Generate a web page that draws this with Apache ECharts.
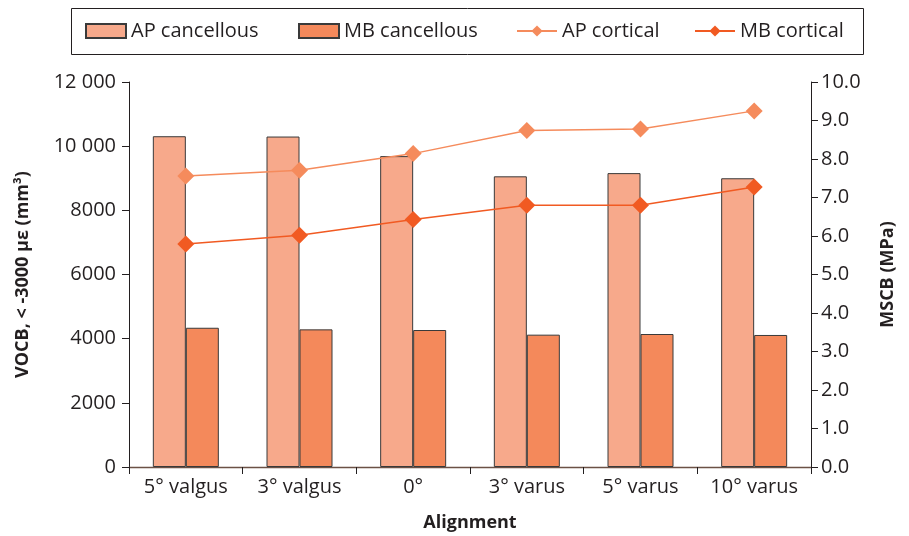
<!DOCTYPE html>
<html><head><meta charset="utf-8">
<script src="https://cdn.jsdelivr.net/npm/echarts@6/dist/echarts.min.js"></script>
<style>html,body{margin:0;padding:0;background:#fff}#c{width:909px;height:536px}</style>
</head><body><div id="c"></div>
<script>
const categories = ['5° valgus','3° valgus','0°','3° varus','5° varus','10° varus'];
const apCancellous = [10310, 10300, 9690, 9060, 9160, 9000];
const mbCancellous = [4340, 4290, 4270, 4125, 4145, 4115];
const apCortical = [7.56, 7.71, 8.14, 8.74, 8.78, 9.25];
const mbCortical = [5.79, 6.02, 6.43, 6.80, 6.80, 7.27];
const leftTicks = [0, 2000, 4000, 6000, 8000, 10000, 12000];
const rightTicks = [0, 1, 2, 3, 4, 5, 6, 7, 8, 9, 10];

const FONT = '"Open Sans", "Noto Sans", sans-serif';
const TXT = '#231F20';
const chart = echarts.init(document.getElementById('c'), null, {renderer: 'canvas'});
const legendText = {fontFamily: FONT, fontSize: 20, color: TXT};
function lg(name, left, icon) {
  const o = {data: [{name: name, icon: icon}], left: left, top: 21, itemWidth: 40, itemHeight: 14, itemGap: 0,
    padding: 0, textStyle: legendText, selectedMode: false};
  return o;
}
const nameStyle = {fontFamily: FONT, fontSize: 18, fontWeight: 'bold', color: TXT};
chart.setOption({
  animation: false,
  backgroundColor: '#fff',
  graphic: [{type: 'rect', shape: {x: 71.5, y: 8.5, width: 792, height: 46},
    style: {fill: 'none', stroke: TXT, lineWidth: 1}}],
  legend: [lg('AP cancellous', 85, 'rect'), lg('MB cancellous', 298, 'rect'),
           lg('AP cortical', 516), lg('MB cortical', 694)],
  grid: {left: 129, right: 98, top: 82, bottom: 69, outerBoundsMode: 'none', containLabel: false},
  xAxis: {
    type: 'category', data: categories,
    name: 'Alignment', nameLocation: 'middle', nameGap: 47,
    nameTextStyle: nameStyle,
    axisLine: {lineStyle: {color: '#6b5146', width: 1.3}},
    axisTick: {show: true, length: 7, interval: 0, lineStyle: {color: TXT}},
    axisLabel: {fontFamily: FONT, fontSize: 20, color: TXT, margin: 10, interval: 0, hideOverlap: false}
  },
  yAxis: [{
    type: 'value', min: 0, max: 12000, interval: 2000,
    name: 'VOCB, < -3000 µε (mm³)', nameLocation: 'middle', nameGap: 97,
    nameTextStyle: nameStyle,
    axisLine: {show: true, lineStyle: {color: TXT}},
    axisTick: {show: true, length: 7, lineStyle: {color: TXT}},
    splitLine: {show: false},
    axisLabel: {fontFamily: FONT, fontSize: 20, color: TXT, margin: 13,
      formatter: v => v >= 10000 ? String(v).replace(/(\d{2})(\d{3})$/, '$1 $2') : String(v)}
  }, {
    type: 'value', min: 0, max: 10, interval: 1, position: 'right',
    name: 'MSCB (MPa)', nameLocation: 'middle', nameGap: 68,
    nameTextStyle: nameStyle,
    axisLine: {show: true, lineStyle: {color: TXT}},
    axisTick: {show: true, length: 7, lineStyle: {color: TXT}},
    splitLine: {show: false},
    axisLabel: {fontFamily: FONT, fontSize: 20, color: TXT, margin: 10, formatter: v => v.toFixed(1)}
  }],
  series: [
    {name: 'AP cancellous', type: 'bar', data: apCancellous, barWidth: 33, barGap: '0%',
      itemStyle: {color: '#F7A98B', borderColor: '#3a3a3a', borderWidth: 1}},
    {name: 'MB cancellous', type: 'bar', data: mbCancellous, barWidth: 33,
      itemStyle: {color: '#F4895B', borderColor: '#3a3a3a', borderWidth: 1}},
    {name: 'AP cortical', type: 'line', yAxisIndex: 1, data: apCortical, symbol: 'diamond', symbolSize: 17,
      lineStyle: {color: '#F58B5C', width: 1.5}, itemStyle: {color: '#F58B5C'}},
    {name: 'MB cortical', type: 'line', yAxisIndex: 1, data: mbCortical, symbol: 'diamond', symbolSize: 17,
      lineStyle: {color: '#F15A22', width: 1.5}, itemStyle: {color: '#F15A22'}}
  ]
});
</script></body></html>
